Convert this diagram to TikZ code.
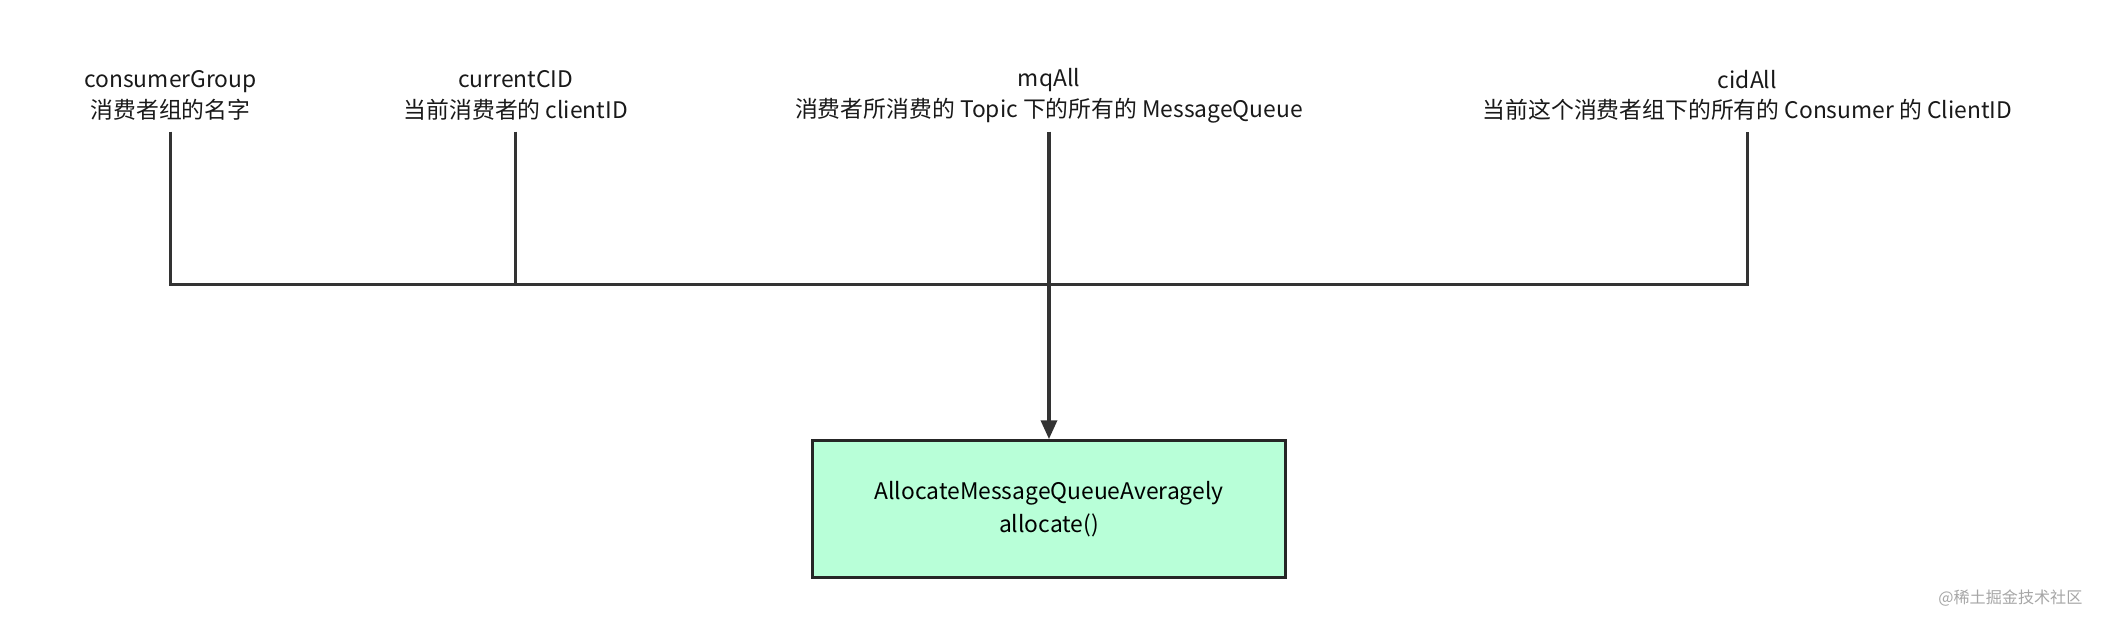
\documentclass[tikz,border=0pt]{standalone}
\usepackage{fontspec}
\setmainfont{Noto Sans CJK SC}
\usetikzlibrary{arrows.meta}
\begin{document}
\begin{tikzpicture}[x=1pt,y=-1pt,
  lbl/.style={align=center,font=\fontsize{17}{23}\selectfont,text=black!90,inner sep=0pt},
  wire/.style={line width=2.4pt,draw=black!80},
  boxs/.style={draw=black!85,line width=2.2pt,fill=green!55!cyan!28!white,minimum width=352pt,minimum height=102pt,align=center,font=\fontsize{17}{24}\selectfont}]
\useasboundingbox (0,0) rectangle (1568,468);
\node[lbl] (cg) at (127,71) {consumerGroup\\消费者组的名字};
\node[lbl] (cc) at (384,71) {currentCID\\当前消费者的 clientID};
\node[lbl] (mq) at (781,71) {mqAll\\消费者所消费的 Topic 下的所有的 MessageQueue};
\node[lbl] (ca) at (1301,71) {cidAll\\当前这个消费者组下的所有的 Consumer 的 ClientID};
\node[boxs] (box) at (781,379) {AllocateMessageQueueAveragely\\allocate()};
\coordinate (j1) at (127,212);
\coordinate (j2) at (384,212);
\coordinate (j3) at (781,212);
\coordinate (j4) at (1301,212);
\draw[wire] (127,98) -- (j1) -- (j4) -- (1301,98);
\draw[wire] (384,98) -- (j2);
\draw[wire,-{Triangle[length=14pt,width=12pt]}] (781,98) -- (box.north);
\node[font=\fontsize{12}{14}\selectfont,text=black!35,anchor=east] (wm) at (1554,445) {@稀土掘金技术社区};
\end{tikzpicture}
\end{document}
